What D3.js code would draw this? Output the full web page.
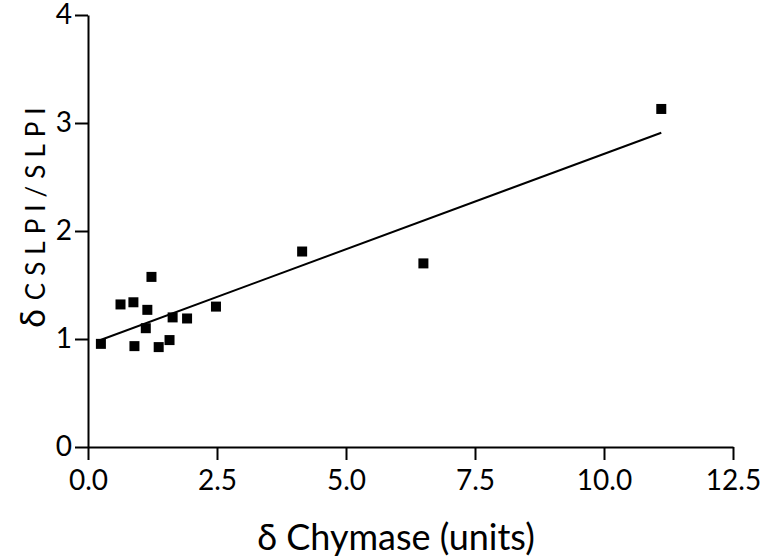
<!DOCTYPE html>
<meta charset="utf-8">
<style>
body {
  margin: 0;
  background: #fff;
}
svg {
  display: block;
  font-family: Lato, "Open Sans", sans-serif;
}
.axis path,
.axis line {
  stroke: #000;
  stroke-width: 2;
}
.axis text {
  font-family: Lato, sans-serif;
  font-size: 28px;
  fill: #000;
}
.fit {
  stroke: #000;
  stroke-width: 2;
  fill: none;
}
.dot {
  fill: #000;
}
</style>
<svg width="769" height="560"></svg>
<script src="https://d3js.org/d3.v7.min.js"></script>
<script>

// chymase change vs cSLPI/SLPI change
var chymase = [0.25, 0.63, 0.88, 1.23, 1.15, 1.12, 0.90, 1.37, 1.58, 1.64, 1.92, 2.48, 4.15, 6.50, 11.11];
var ratio   = [0.955, 1.32, 1.34, 1.575, 1.27, 1.10, 0.934, 0.925, 0.99, 1.20, 1.19, 1.30, 1.81, 1.70, 3.13];

var xTicks = [0, 2.5, 5, 7.5, 10, 12.5];
var yTicks = [0, 1, 2, 3, 4];

var svg = d3.select("svg"),
    plotLeft = 88, plotRight = 733, plotTop = 15, plotBottom = 447;

var x = d3.scaleLinear().domain([0, 12.5]).range([plotLeft, plotRight]);
var y = d3.scaleLinear().domain([0, 4]).range([plotBottom, plotTop]);

svg.append("g")
  .attr("class", "axis")
  .attr("transform", "translate(0," + plotBottom + ")")
  .call(d3.axisBottom(x).tickValues(xTicks).tickFormat(d3.format(".1f"))
    .tickSize(13).tickSizeOuter(0).tickPadding(10));

svg.append("g")
  .attr("class", "axis")
  .attr("transform", "translate(" + plotLeft + ",0)")
  .call(d3.axisLeft(y).tickValues(yTicks).tickFormat(d3.format("d"))
    .tickSize(13).tickSizeOuter(0).tickPadding(3));

// least squares line over the data range
var pts = chymase.map((c, i) => [c, ratio[i]]);
var mx = d3.mean(chymase), my = d3.mean(ratio);
var slope = d3.sum(pts, p => (p[0] - mx) * (p[1] - my)) / d3.sum(pts, p => (p[0] - mx) * (p[0] - mx));
var icept = my - slope * mx;
var ends = d3.extent(chymase);

svg.append("line")
  .attr("class", "fit")
  .attr("x1", x(ends[0] - 0.06))
  .attr("y1", y(icept + slope * (ends[0] - 0.06)))
  .attr("x2", x(ends[1]))
  .attr("y2", y(icept + slope * ends[1]));

var size = 10;
svg.selectAll(".dot")
  .data(pts)
  .join("rect")
  .attr("class", "dot")
  .attr("x", d => x(d[0]) - size / 2)
  .attr("y", d => y(d[1]) - size / 2)
  .attr("width", size)
  .attr("height", size);

// axis titles
svg.append("text")
  .attr("x", 396)
  .attr("y", 550)
  .attr("text-anchor", "middle")
  .style("font-size", "36px")
  .text("δ Chymase (units)");

var yl = svg.append("text")
  .attr("transform", "translate(45,214) rotate(-90)")
  .attr("text-anchor", "middle");
yl.append("tspan")
  .style("font-size", "34px")
  .text("δ ");
yl.append("tspan")
  .style("font-size", "26px")
  .style("letter-spacing", "7px")
  .text("CSLPI/SLPI");
</script>
